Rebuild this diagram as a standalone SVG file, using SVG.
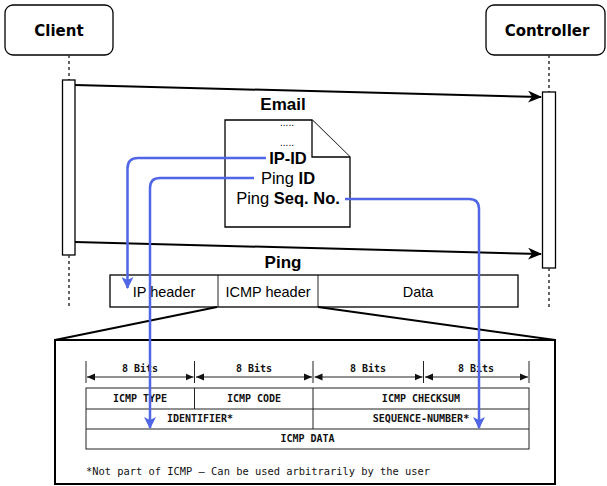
<svg xmlns="http://www.w3.org/2000/svg" width="607" height="486" viewBox="0 0 607 486">
<style>
.box{fill:#fff;stroke:#000;stroke-width:1.3}
.life{stroke:#333;stroke-width:1.5;stroke-dasharray:3,3;fill:none}
.msg{stroke:#000;stroke-width:2;fill:none}
.blue{stroke:#5166e6;stroke-width:2.5;fill:none}
.thin{stroke:#222;stroke-width:1;fill:none}
.hd{font-family:"DejaVu Sans",sans-serif;font-weight:bold;font-size:15px;fill:#000}
.lbl{font-family:"Liberation Sans",Arial,sans-serif;font-weight:bold;font-size:17px;fill:#000}
.doc{font-family:"Liberation Sans",Arial,sans-serif;font-size:16.5px;fill:#000}
.dots{font-family:"Liberation Sans",Arial,sans-serif;font-size:10px;fill:#000}
.pk{font-family:"Liberation Sans",Arial,sans-serif;font-size:14.5px;fill:#000}
.mono{font-family:"DejaVu Sans Mono","Liberation Mono",monospace;font-weight:bold;font-size:10px;fill:#111}
.foot{font-family:"DejaVu Sans Mono","Liberation Mono",monospace;font-size:10.4px;fill:#111}
</style>
<defs>
<marker id="ah" viewBox="0 0 14 12" refX="13" refY="6" markerWidth="14" markerHeight="12" markerUnits="userSpaceOnUse" orient="auto">
<path d="M0,0 L14,6 L0,12 L4,6 z" fill="#000"/>
</marker>
<marker id="bh" viewBox="0 0 12 12" refX="11" refY="6" markerWidth="12" markerHeight="12" markerUnits="userSpaceOnUse" orient="auto">
<path d="M0,0 L12,6 L0,12 L3,6 z" fill="#5166e6"/>
</marker>
<marker id="dh" viewBox="0 0 8 8" refX="8" refY="4" markerWidth="8" markerHeight="8" markerUnits="userSpaceOnUse" orient="auto-start-reverse">
<path d="M0,0.5 L8,4 L0,7.5 z" fill="#111"/>
</marker>
</defs>

<g id="client">
<rect class="box" x="5" y="5" width="108" height="50" rx="8"/>
<text class="hd" x="59" y="36" text-anchor="middle">Client</text>
<line class="life" x1="69" y1="55" x2="69" y2="80"/>
<rect class="box" x="62.5" y="80" width="12.5" height="175"/>
<line class="life" x1="69" y1="255" x2="69" y2="306"/>
</g>

<g id="controller">
<rect class="box" x="486" y="5" width="119" height="50" rx="8"/>
<text class="hd" x="547" y="36" text-anchor="middle">Controller</text>
<line class="life" x1="549" y1="55" x2="549" y2="92"/>
<rect class="box" x="542.5" y="92" width="13" height="176"/>
<line class="life" x1="549" y1="268" x2="549" y2="307"/>
</g>

<g id="email-doc">
<path class="box" d="M225,120 L312,120 L350,157 L350,227 L225,227 Z"/>
<path class="box" d="M312,120 L312,157 L350,157" fill="none"/>
<text class="dots" x="287" y="126" text-anchor="middle">.....</text>
<text class="dots" x="287" y="146" text-anchor="middle">.....</text>
<text class="doc" x="288" y="164" text-anchor="middle" font-weight="bold">IP-ID</text>
<text class="doc" x="288" y="184" text-anchor="middle">Ping <tspan font-weight="bold">ID</tspan></text>
<text class="doc" x="288" y="204" text-anchor="middle">Ping <tspan font-weight="bold">Seq. No.</tspan></text>
</g>

<g id="ping-packet">
<rect class="box" x="110" y="275" width="408" height="32"/>
<line class="thin" x1="218" y1="275" x2="218" y2="307" stroke-width="1.3"/>
<line class="thin" x1="318" y1="275" x2="318" y2="307" stroke-width="1.3"/>
<text class="pk" x="164" y="297" text-anchor="middle">IP header</text>
<text class="pk" x="268" y="297" text-anchor="middle">ICMP header</text>
<text class="pk" x="418" y="297" text-anchor="middle">Data</text>
</g>

<g id="icmp-detail">
<rect x="55" y="340" width="500" height="144" fill="#fff" stroke="#000" stroke-width="2"/>
<g class="thin" stroke="#333">
<line x1="86" y1="361" x2="86" y2="383"/>
<line x1="194.5" y1="361" x2="194.5" y2="383"/>
<line x1="313" y1="361" x2="313" y2="383"/>
<line x1="423.5" y1="361" x2="423.5" y2="383"/>
<line x1="529" y1="361" x2="529" y2="383"/>
<line x1="87" y1="377" x2="193.5" y2="377" marker-start="url(#dh)" marker-end="url(#dh)"/>
<line x1="196" y1="377" x2="312" y2="377" marker-start="url(#dh)" marker-end="url(#dh)"/>
<line x1="314.5" y1="377" x2="422.5" y2="377" marker-start="url(#dh)" marker-end="url(#dh)"/>
<line x1="425" y1="377" x2="528" y2="377" marker-start="url(#dh)" marker-end="url(#dh)"/>
<rect x="86" y="388" width="443" height="61"/>
<line x1="86" y1="409" x2="529" y2="409"/>
<line x1="86" y1="429" x2="529" y2="429"/>
<line x1="194.5" y1="388" x2="194.5" y2="409"/>
<line x1="313" y1="388" x2="313" y2="429"/>
</g>
<text class="mono" x="140" y="372" text-anchor="middle">8 Bits</text>
<text class="mono" x="254" y="372" text-anchor="middle">8 Bits</text>
<text class="mono" x="368" y="372" text-anchor="middle">8 Bits</text>
<text class="mono" x="476" y="372" text-anchor="middle">8 Bits</text>
<text class="mono" x="140" y="402" text-anchor="middle">ICMP TYPE</text>
<text class="mono" x="254" y="402" text-anchor="middle">ICMP CODE</text>
<text class="mono" x="421" y="402" text-anchor="middle">ICMP CHECKSUM</text>
<text class="mono" x="200" y="422" text-anchor="middle">IDENTIFIER*</text>
<text class="mono" x="421" y="422" text-anchor="middle">SEQUENCE-NUMBER*</text>
<text class="mono" x="307.5" y="442" text-anchor="middle">ICMP DATA</text>
<text class="foot" x="86" y="475">*Not part of ICMP – Can be used arbitrarily by the user</text>
</g>

<g id="connectors">
<line class="msg" x1="75" y1="85" x2="541" y2="97" marker-end="url(#ah)"/>
<text class="lbl" x="283" y="110" text-anchor="middle">Email</text>
<line class="msg" x1="75" y1="242" x2="541" y2="254" marker-end="url(#ah)"/>
<text class="lbl" x="283" y="268" text-anchor="middle">Ping</text>
<line class="msg" x1="217" y1="307" x2="55" y2="340" stroke-width="1.3"/>
<line class="msg" x1="318" y1="307" x2="555" y2="340" stroke-width="1.3"/>
<path class="blue" d="M266,158 L138,158 Q127.5,158 127.5,168.5 L127.5,288" marker-end="url(#bh)"/>
<path class="blue" d="M254,178 L160,178 Q150,178 150,188 L150,428" marker-end="url(#bh)"/>
<path class="blue" d="M345,199 L469,199 Q479,199 479,209 L479,428" marker-end="url(#bh)"/>
</g>
</svg>
